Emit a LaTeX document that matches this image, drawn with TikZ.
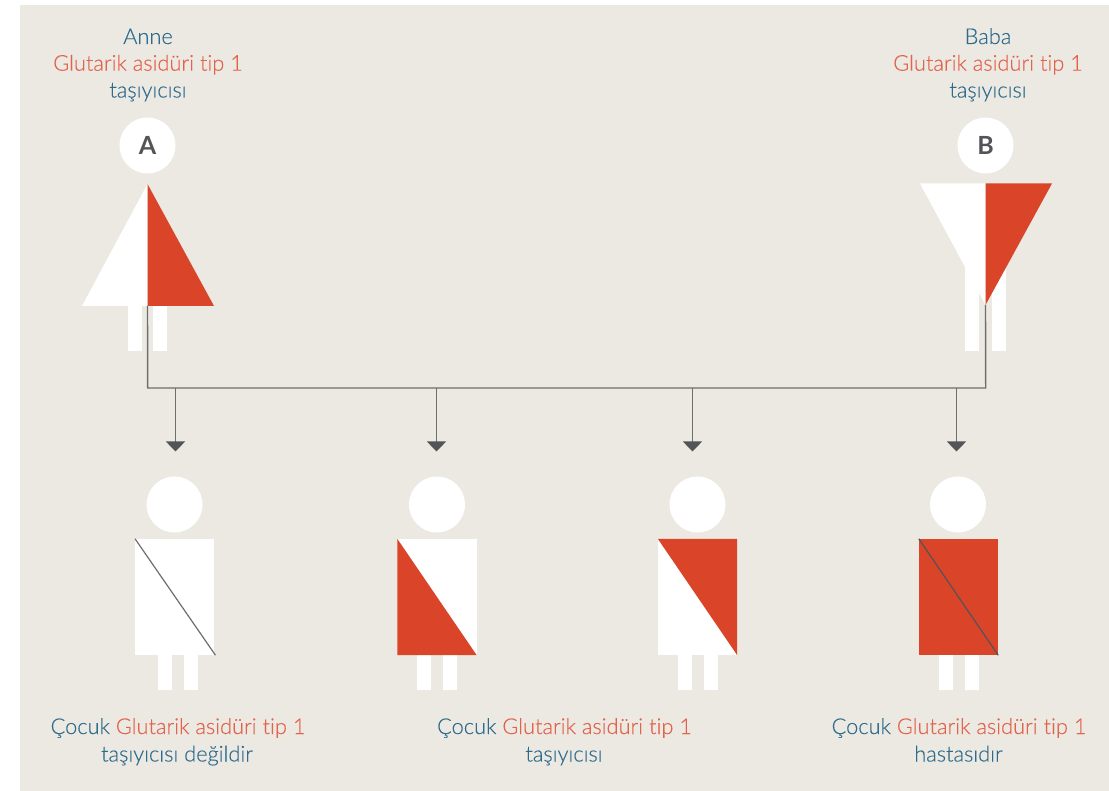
\documentclass[tikz,border=0pt]{standalone}
\usepackage{fontspec}
\setmainfont{Lato}
\newfontfamily\lightfont[Ligatures=NoCommon,FakeBold=0.12]{Lato Light}
\usetikzlibrary{arrows.meta}
\definecolor{bgc}{HTML}{ECE9E2}
\definecolor{redc}{HTML}{DA4428}
\definecolor{redt}{HTML}{E2624C}
\definecolor{bluet}{HTML}{2F6C8C}
\definecolor{linec}{HTML}{6E6E6E}
\definecolor{tipc}{HTML}{535457}
\tikzset{
  x=1pt,y=-1pt,
  head/.style={circle,fill=white,draw=none,minimum size=56pt,inner sep=0pt,text=tipc,font=\fontsize{25}{25}\selectfont\bfseries},
  body/.style={rectangle,fill=white,draw=none,minimum width=79pt,minimum height=116pt,inner sep=0pt},
  leg/.style={fill=white,draw=none},
  redpart/.style={fill=redc,draw=none},
  wire/.style={draw=linec,line width=1.4pt},
  diag/.style={draw=linec,line width=1.2pt},
  diagdark/.style={draw=tipc,line width=1.2pt},
  drop/.style={wire,-{Triangle[length=10pt,width=19pt,color=tipc]}},
  lab/.style={anchor=base,inner sep=0pt,font=\lightfont\fontsize{21.8}{21.8}\selectfont},
}
\newcommand{\legpair}[4]{%
  \fill[leg] (#1,#3) rectangle ++(14,#4-#3);
  \fill[leg] (#2,#3) rectangle ++(14,#4-#3);}
\begin{document}
\begin{tikzpicture}
\useasboundingbox (0,0) rectangle (1109,791);
\fill[white] (0,0) rectangle (1109,791);
\fill[bgc] (19.5,5) rectangle (1109,791);

% Mother
\node[head] (hA) at (147.5,145.5) {A};
\legpair{127.5}{153}{306}{351}
\fill[white] (82,306) -- (147.5,184) -- (147.5,306) -- cycle;
\fill[redpart] (147.5,184) -- (214,306) -- (147.5,306) -- cycle;
\coordinate (motherfoot) at (147.5,306);

% Father
\node[head] (hB) at (985.5,145.5) {B};
\legpair{965}{992}{265}{351}
\fill[white] (920,183.5) -- (985.5,183.5) -- (985.5,305) -- cycle;
\fill[redpart] (985.5,183.5) -- (1052,183.5) -- (985.5,305) -- cycle;
\coordinate (fatherfoot) at (985.5,305);

% Children
\node[head] (h1) at (174.5,504.5) {};
\node[head] (h2) at (437,504.5) {};
\node[head] (h3) at (697.5,504.5) {};
\node[head] (h4) at (958,504.5) {};
\legpair{157.5}{183.5}{655}{690}
\legpair{416.5}{443}{655}{690}
\legpair{678}{704}{655}{690}
\legpair{939}{965}{655}{690}
\node[body] (b1) at (174.75,597) {};
\node[body] (b2) at (437,597) {};
\node[body] (b3) at (697.5,597) {};
\node[body,fill=redc] (b4) at (958.5,597) {};
\draw[diag] (b1.north west) -- ([xshift=1pt]b1.south east);
\fill[redpart] (b2.north west) -- (b2.south east) -- (b2.south west) -- cycle;
\fill[redpart] (b3.north west) -- (b3.north east) -- (b3.south east) -- cycle;
\draw[diagdark] (b4.north west) -- (b4.south east);

% Connectors
\coordinate (cornerA) at (147.7,388);
\coordinate (cornerB) at (985.7,388);
\draw[wire] (motherfoot) -- (cornerA) -- (cornerB) -- (fatherfoot);
\coordinate (t1) at (175.5,388); \coordinate (e1) at (175.5,451.5);
\coordinate (t2) at (436.5,388);   \coordinate (e2) at (436.5,451.5);
\coordinate (t3) at (692.5,388); \coordinate (e3) at (692.5,451.5);
\coordinate (t4) at (956.5,388); \coordinate (e4) at (956.5,451.5);
\draw[drop] (t1) -- (e1);
\draw[drop] (t2) -- (e2);
\draw[drop] (t3) -- (e3);
\draw[drop] (t4) -- (e4);

% Labels
\node[lab,text=bluet] (la1) at (148,44) {Anne};
\node[lab,text=redt] (la2) at (148,70.7) {Glutarik asidüri tip 1};
\node[lab,text=bluet] (la3) at (148,97.5) {taşıyıcısı};
\node[lab,text=bluet] (lb1) at (988,44) {Baba};
\node[lab,text=redt] (lb2) at (988,70.7) {Glutarik asidüri tip 1};
\node[lab,text=bluet] (lb3) at (988,97.5) {taşıyıcısı};
\node[lab,text=bluet] (c1a) at (178,734) {Çocuk \textcolor{redt}{Glutarik asidüri tip 1}};
\node[lab,text=bluet] (c1b) at (177,761.5) {taşıyıcısı değildir};
\node[lab,text=bluet] (c2a) at (564.5,734) {Çocuk \textcolor{redt}{Glutarik asidüri tip 1}};
\node[lab,text=bluet] (c2b) at (564,761.5) {taşıyıcısı};
\node[lab,text=bluet] (c3a) at (959,734) {Çocuk \textcolor{redt}{Glutarik asidüri tip 1}};
\node[lab,text=bluet] (c3b) at (958.5,761.5) {hastasıdır};
\end{tikzpicture}
\end{document}
